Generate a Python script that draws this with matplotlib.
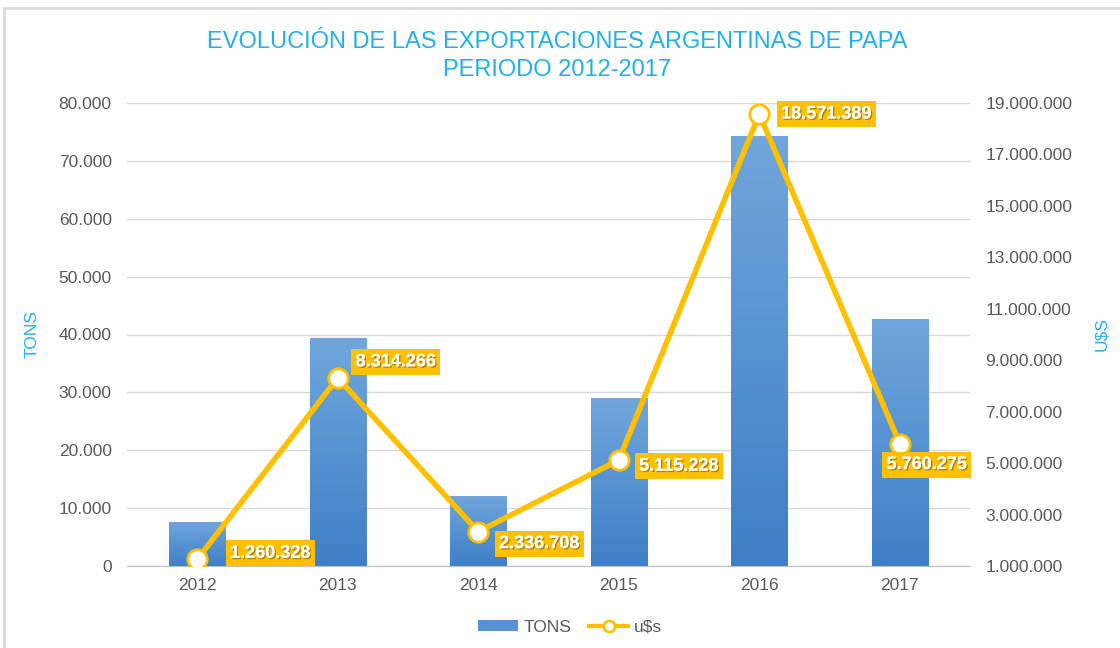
import numpy as np
import matplotlib
matplotlib.use("Agg")
import matplotlib.pyplot as plt
from matplotlib.lines import Line2D
from matplotlib.patches import Patch
import matplotlib.patheffects as pe

plt.rcParams['font.family'] = ['Liberation Sans', 'DejaVu Sans']

# datos
years = ['2012', '2013', '2014', '2015', '2016', '2017']
tons = [7600, 39400, 12100, 29000, 74300, 42700]
usd = [1260328, 8314266, 2336708, 5115228, 18571389, 5760275]
usd_labels = ['1.260.328', '8.314.266', '2.336.708', '5.115.228', '18.571.389', '5.760.275']
# desplazamiento del centro de cada etiqueta en pixeles (dx, dy)
label_off = [(73, 6), (58, 16), (61, -12), (60, -6), (67, 0), (27, -21)]

blue_top = np.array([0x70, 0xA6, 0xDC]) / 255
blue_bot = np.array([0x3E, 0x7F, 0xC6]) / 255
gold = '#FFC000'
title_col = '#1FB1E8'
txt_col = '#595959'

def fmt(v):
    return '{:,.0f}'.format(v).replace(',', '.')

fig = plt.figure(figsize=(11.2, 6.48), dpi=100)
ax = fig.add_axes([127/1120, 1 - 566/648, 843/1120, 463/648])
ax2 = ax.twinx()

x = np.arange(len(years))
bw = 0.4

# barras con degradado
grad = np.linspace(0, 1, 256).reshape(-1, 1)
cols = blue_bot + (blue_top - blue_bot) * grad
img = cols.reshape(256, 1, 3)
for i, v in enumerate(tons):
    bars = ax.bar(x[i], v, bw, color='none', zorder=2)
    r = bars[0]
    im = ax.imshow(img, extent=[x[i] - bw/2, x[i] + bw/2, 0, v], origin='lower',
                   aspect='auto', zorder=2)
    im.set_clip_path(r)

ax.set_xlim(-0.5, len(years) - 0.5)
ax.set_ylim(0, 80000)
ax.set_yticks(np.arange(0, 80001, 10000))
ax.set_yticklabels([fmt(t) for t in np.arange(0, 80001, 10000)])
ax.set_xticks(x)
ax.set_xticklabels(years)
ax.grid(axis='y', color='#D9D9D9', lw=1, zorder=0)
ax.set_axisbelow(True)
for s in ['top', 'right', 'left']:
    ax.spines[s].set_visible(False)
    ax2.spines[s].set_visible(False)
ax.spines['bottom'].set_color('#BFBFBF')
ax2.spines['bottom'].set_visible(False)
ax.tick_params(axis='both', length=0, labelsize=12.5, labelcolor=txt_col, pad=11)
ax.tick_params(axis='x', pad=9)

# linea u$s
ax2.plot(x, usd, color=gold, lw=4, marker='o', ms=14, mfc='white', mec=gold,
         mew=2, zorder=5, solid_joinstyle='miter')
ax2.set_ylim(1000000, 19000000)
ax2.set_yticks(np.arange(1000000, 19000001, 2000000))
ax2.set_yticklabels([fmt(t) for t in np.arange(1000000, 19000001, 2000000)])
ax2.tick_params(axis='y', length=0, labelsize=12.5, labelcolor=txt_col, pad=11)

for i, lab in enumerate(usd_labels):
    dx, dy = label_off[i]
    ax2.annotate(lab, (x[i], usd[i]), xytext=(dx, dy), textcoords='offset pixels',
                 ha='center', va='center', fontsize=13, fontweight='bold', color='white',
                 bbox=dict(boxstyle='square,pad=0.25', fc=gold, ec='none'),
                 path_effects=[pe.withSimplePatchShadow(offset=(1, -1), shadow_rgbFace='#7a5c00', alpha=0.6),
                               pe.Normal()],
                 zorder=6)

ax.set_ylabel('TONS', color=title_col, fontsize=12.5, labelpad=14)
ax2.set_ylabel('U$S', color=title_col, fontsize=12.5, labelpad=16, rotation=90)

fig.text(557/1120, 1 - 42/648, 'EVOLUCIÓN DE LAS EXPORTACIONES ARGENTINAS DE PAPA',
         ha='center', va='center', fontsize=17, color=title_col)
fig.text(557/1120, 1 - 70/648, 'PERIODO 2012-2017',
         ha='center', va='center', fontsize=17, color=title_col)

handles = [Patch(facecolor=(blue_top + blue_bot) / 2, edgecolor='none'),
           Line2D([0], [0], color=gold, lw=3, marker='o', ms=8, mfc='white', mec=gold, mew=2)]
fig.legend(handles, ['TONS', 'u$s'], loc='center', bbox_to_anchor=(570/1120, 1 - 627/648),
           ncol=2, frameon=False, fontsize=12.5, labelcolor=txt_col,
           handlelength=2.3, handleheight=0.6, columnspacing=1.0, handletextpad=0.3)

# borde gris de la captura
fig.add_artist(Line2D([4/1120, 4/1120], [0, 1 - 8/648], color='#D9D9D9', lw=2))
fig.add_artist(Line2D([4/1120, 1], [1 - 8/648, 1 - 8/648], color='#D9D9D9', lw=2))

fig.savefig('out.png', dpi=100)
